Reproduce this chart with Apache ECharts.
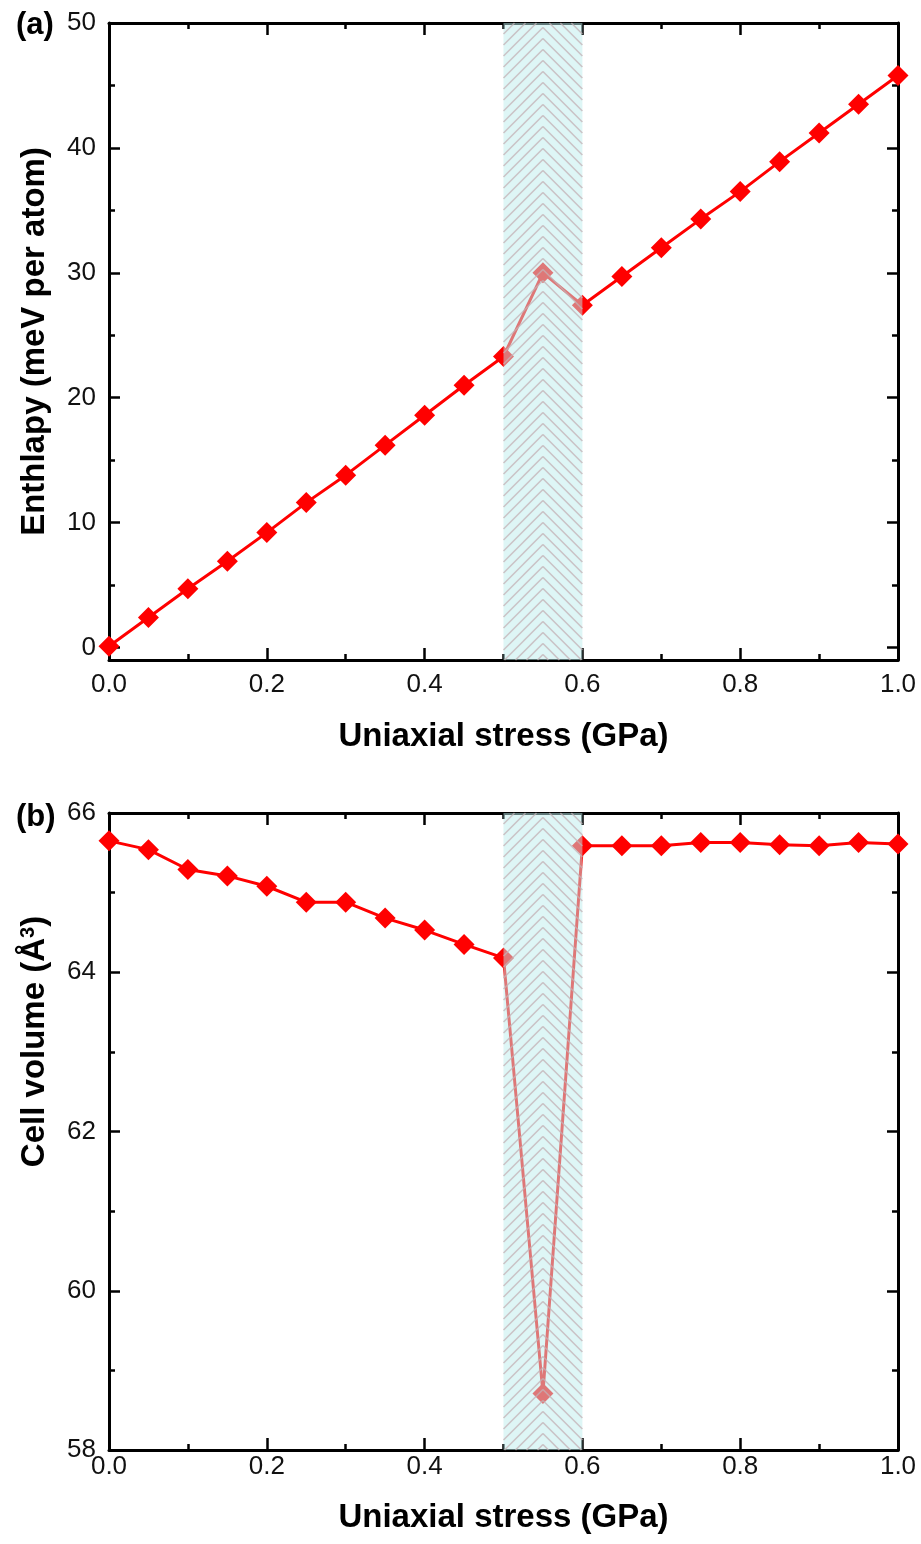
<!DOCTYPE html>
<html>
<head>
<meta charset="utf-8">
<script src="https://cdn.jsdelivr.net/npm/echarts@6/dist/echarts.min.js"></script>
<style>
  html, body { margin: 0; padding: 0; background: #fff; }
  #main { width: 921px; height: 1544px; }
</style>
</head>
<body>
<div id="main"></div>
<script>
// stress values (GPa), shared by both panels
var stress = [0, 0.05, 0.1, 0.15, 0.2, 0.25, 0.3, 0.35, 0.4, 0.45, 0.5,
              0.55, 0.6, 0.65, 0.7, 0.75, 0.8, 0.85, 0.9, 0.95, 1.0];
// (a) enthalpy, meV per atom
var enthalpy = [0.1, 2.4, 4.7, 6.9, 9.2, 11.6, 13.8, 16.2, 18.6, 21.0, 23.3,
                30.0, 27.4, 29.7, 32.0, 34.3, 36.5, 38.9, 41.2, 43.5, 45.8];
// (b) cell volume, A^3
var volume = [65.65, 65.54, 65.29, 65.21, 65.08, 64.88, 64.88, 64.68, 64.53, 64.35, 64.18,
              58.71, 65.59, 65.59, 65.59, 65.63, 65.63, 65.60, 65.59, 65.63, 65.61];
// shaded transition window
var hatchRange = [[0.5, 0.6]];

var chart = echarts.init(document.getElementById('main'));

function zip(xs, ys) {
  return xs.map(function (x, i) { return [x, ys[i]]; });
}

// clip a segment to a vertical band [top, bot]
function clipSeg(x1, y1, x2, y2, top, bot) {
  var t0 = 0, t1 = 1, dy = y2 - y1;
  if (dy !== 0) {
    var ta = (top - y1) / dy, tb = (bot - y1) / dy;
    t0 = Math.max(t0, Math.min(ta, tb));
    t1 = Math.min(t1, Math.max(ta, tb));
  }
  if (t0 >= t1) return null;
  return [x1 + (x2 - x1) * t0, y1 + dy * t0, x1 + (x2 - x1) * t1, y1 + dy * t1];
}

// herringbone hatch drawn over the window
function renderHatch(params, api) {
  var cs = params.coordSys;
  var xl = api.coord([api.value(0), api.value(1)])[0];
  var xr = api.coord([api.value(1), api.value(1)])[0];
  var xm = (xl + xr) / 2;
  var top = cs.y, bot = cs.y + cs.height;
  var h = xm - xl;
  var kids = [{
    type: 'rect',
    shape: { x: xl, y: top, width: xr - xl, height: cs.height },
    style: { fill: 'rgba(190,238,238,0.5)' }
  }];
  var lineStyle = { stroke: 'rgba(195,178,182,0.75)', lineWidth: 1.6 };
  for (var y0 = top - h - 11; y0 < bot + 11; y0 += 11) {
    var a = clipSeg(xl, y0 + h, xm, y0, top, bot);
    var b = clipSeg(xm, y0, xr, y0 + h, top, bot);
    if (a) kids.push({ type: 'line', shape: { x1: a[0], y1: a[1], x2: a[2], y2: a[3] }, style: lineStyle });
    if (b) kids.push({ type: 'line', shape: { x1: b[0], y1: b[1], x2: b[2], y2: b[3] }, style: lineStyle });
  }
  return { type: 'group', children: kids };
}

var font = 'Liberation Sans, Arial, sans-serif';
var axisLine = { show: true, onZero: false, lineStyle: { color: '#000', width: 3 } };
var tick = { inside: true, length: 12, lineStyle: { color: '#000', width: 2.5 } };
var minor = { show: true, splitNumber: 2, length: 6, lineStyle: { color: '#000', width: 2.5 } };

function xAxisFor(grid, labelMargin, nameGap) {
  return [{
    type: 'value', gridIndex: grid, min: 0, max: 1, interval: 0.2,
    position: 'bottom',
    name: 'Uniaxial stress (GPa)', nameLocation: 'middle', nameGap: nameGap,
    nameTextStyle: { fontFamily: font, fontWeight: 'bold', fontSize: 33, color: '#000' },
    axisLine: axisLine, axisTick: tick, minorTick: minor,
    axisLabel: {
      fontFamily: font, fontSize: 26, color: '#111', margin: labelMargin,
      formatter: function (v) { return v.toFixed(1); }
    },
    splitLine: { show: false }
  }, {
    type: 'value', gridIndex: grid, min: 0, max: 1, interval: 0.2,
    position: 'top',
    axisLine: axisLine, axisTick: tick, minorTick: minor,
    axisLabel: { show: false },
    splitLine: { show: false }
  }];
}

function yAxisFor(grid, opts) {
  var base = {
    type: 'value', gridIndex: grid, min: opts.min, max: opts.max,
    axisLine: axisLine,
    axisTick: { inside: true, length: 11, lineStyle: { color: '#000', width: 2.5 } },
    minorTick: minor,
    splitLine: { show: false }
  };
  if (opts.interval) base.interval = opts.interval;
  var left = Object.assign({}, base, {
    position: 'left',
    name: opts.name, nameLocation: 'middle', nameGap: 58,
    nameTextStyle: opts.nameStyle,
    axisLabel: {
      fontFamily: font, fontSize: 26, color: '#111', margin: 13,
      formatter: function (v) { return (v % opts.step === 0) ? String(v) : ''; }
    }
  });
  var right = Object.assign({}, base, { position: 'right', axisLabel: { show: false } });
  return [left, right];
}

var nameBold = { fontFamily: font, fontWeight: 'bold', fontSize: 33, color: '#000' };

var option = {
  backgroundColor: '#fff',
  animation: false,
  title: [
    { text: '(a)', left: 11, top: 5, textStyle: { fontFamily: font, fontWeight: 'bold', fontSize: 31, color: '#000' } },
    { text: '(b)', left: 11, top: 797, textStyle: { fontFamily: font, fontWeight: 'bold', fontSize: 31, color: '#000' } }
  ],
  grid: [
    { left: 109, top: 23, width: 789, height: 637 },
    { left: 109, top: 813, width: 789, height: 637 }
  ],
  xAxis: xAxisFor(0, 12, 60).concat(xAxisFor(1, 4, 51)),
  yAxis: yAxisFor(0, {
    min: -1, max: 50, step: 10,
    name: 'Enthlapy (meV per atom)', nameStyle: nameBold
  }).concat(yAxisFor(1, {
    min: 58, max: 66, interval: 2, step: 2,
    name: 'Cell volume (Å{sup|3})',
    nameStyle: Object.assign({}, nameBold, {
      padding: [0, 0, 0, 180],
      rich: { sup: { fontFamily: font, fontWeight: 'bold', fontSize: 20, color: '#000', verticalAlign: 'top', padding: [0, 0, 10, 0] } }
    })
  })),
  series: [{
    type: 'line', xAxisIndex: 0, yAxisIndex: 0, z: 2,
    data: zip(stress, enthalpy),
    symbol: 'diamond', symbolSize: 21,
    itemStyle: { color: '#ff0000' },
    lineStyle: { color: '#ff0000', width: 3 }
  }, {
    type: 'line', xAxisIndex: 2, yAxisIndex: 2, z: 2,
    data: zip(stress, volume),
    symbol: 'diamond', symbolSize: 21,
    itemStyle: { color: '#ff0000' },
    lineStyle: { color: '#ff0000', width: 3 }
  }, {
    type: 'custom', xAxisIndex: 0, yAxisIndex: 0, z: 5,
    renderItem: renderHatch, encode: { x: [0, 1] }, silent: true,
    data: hatchRange
  }, {
    type: 'custom', xAxisIndex: 2, yAxisIndex: 2, z: 5,
    renderItem: renderHatch, encode: { x: [0, 1] }, silent: true,
    data: hatchRange
  }]
};

chart.setOption(option);
</script>
</body>
</html>
